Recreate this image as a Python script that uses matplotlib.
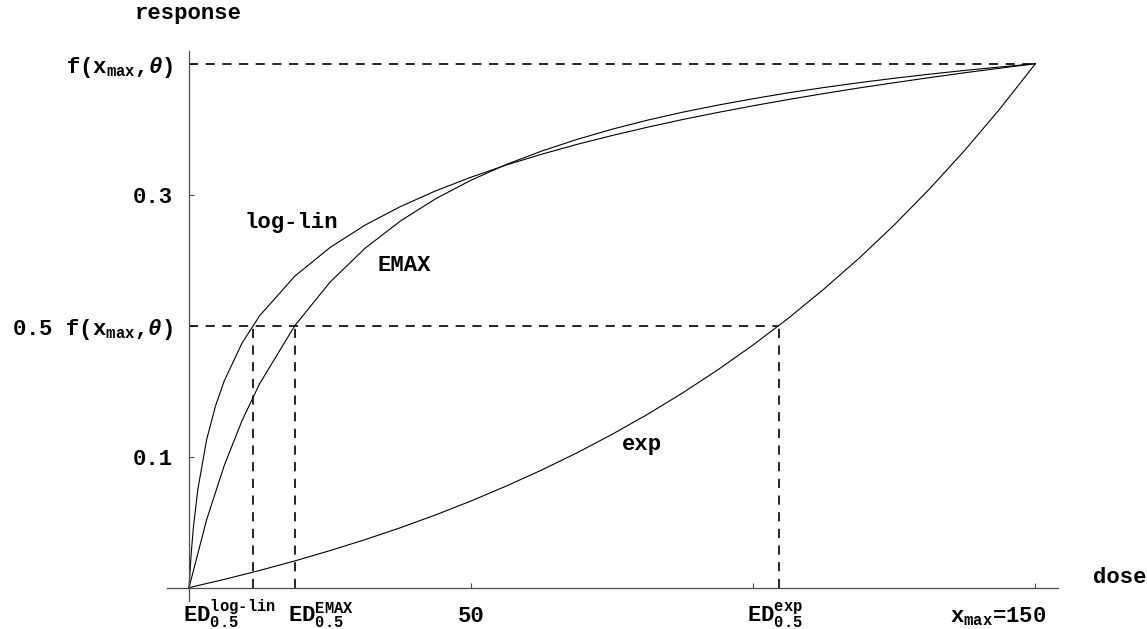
import matplotlib
matplotlib.use("Agg")
import matplotlib.pyplot as plt

plt.rcParams['font.family'] = ['Liberation Mono', 'DejaVu Sans']
plt.rcParams['font.weight'] = 'bold'
plt.rcParams['mathtext.fontset'] = 'custom'
plt.rcParams['mathtext.rm'] = 'Liberation Mono:bold'
plt.rcParams['mathtext.it'] = 'Liberation Mono:bold:italic'
plt.rcParams['mathtext.bf'] = 'Liberation Mono:bold'

# dose grid (plot points) and responses
dose_loglin = [0, 0.39, 0.78, 1.5625, 3.125, 4.6875, 6.25, 9.375, 12.5, 18.75, 25, 31.25,
               37.5, 43.75, 50, 56.25, 62.5, 68.75, 75, 81.25, 87.5, 93.75, 100, 106.25,
               112.5, 118.75, 125, 131.25, 137.5, 143.75, 150]
resp_loglin = [0, 0.0263, 0.0460, 0.0750, 0.1130, 0.1386, 0.1579, 0.1865, 0.2075, 0.2378,
               0.2597, 0.2769, 0.2910, 0.3030, 0.3134, 0.3227, 0.3309, 0.3384, 0.3452,
               0.3515, 0.3574, 0.3628, 0.3679, 0.3727, 0.3772, 0.3815, 0.3855, 0.3894,
               0.3931, 0.3966, 0.4000]

dose_emax = [0, 3.125, 6.25, 9.375, 12.5, 18.75, 25, 31.25, 37.5, 43.75, 50, 56.25, 62.5,
             68.75, 75, 81.25, 87.5, 93.75, 100, 106.25, 112.5, 118.75, 125, 131.25, 137.5,
             143.75, 150]
resp_emax = [0, 0.0519, 0.0933, 0.1273, 0.1556, 0.2000, 0.2333, 0.2593, 0.2800, 0.2970,
             0.3111, 0.3231, 0.3333, 0.3422, 0.3500, 0.3569, 0.3630, 0.3684, 0.3733,
             0.3778, 0.3818, 0.3855, 0.3889, 0.3920, 0.3949, 0.3975, 0.4000]

dose_exp = [0, 6.25, 12.5, 18.75, 25, 31.25, 37.5, 43.75, 50, 56.25, 62.5, 68.75, 75, 81.25,
            87.5, 93.75, 100, 106.25, 112.5, 118.75, 125, 131.25, 137.5, 143.75, 150]
resp_exp = [0, 0.0063, 0.0131, 0.0204, 0.0283, 0.0367, 0.0458, 0.0556, 0.0662, 0.0776,
            0.0898, 0.1029, 0.1171, 0.1323, 0.1487, 0.1664, 0.1854, 0.2058, 0.2279,
            0.2515, 0.2770, 0.3045, 0.3340, 0.3658, 0.4000]

x_max = 150
f_max = 0.4
ed_values = [11.29, 18.75, 104.5]   # log-lin, EMAX, exp

W, H = 1147, 629
fig = plt.figure(figsize=(W / 100, H / 100), dpi=100)
ax = fig.add_axes([167 / W, 28 / H, (1058 - 167) / W, (601 - 51) / H])
ax.set_xlim(-3.9, 154.0)
ax.set_ylim(-0.0102, 0.4097)

for s in ['top', 'right']:
    ax.spines[s].set_visible(False)
ax.spines['left'].set_position(('data', 0))
ax.spines['bottom'].set_position(('data', 0))
for s in ['left', 'bottom']:
    ax.spines[s].set_color('0.3')
    ax.spines[s].set_linewidth(0.9)

# curves
for xs, ys in [(dose_loglin, resp_loglin), (dose_emax, resp_emax), (dose_exp, resp_exp)]:
    ax.plot(xs, ys, color='black', lw=0.8, solid_joinstyle='miter')

# reference lines
dash = dict(color='black', lw=1.2, linestyle=(0, (5.5, 4.5)))
ax.plot([0, x_max], [f_max, f_max], **dash)
ax.plot([0, max(ed_values)], [f_max / 2, f_max / 2], **dash)
for ed in ed_values:
    ax.plot([ed, ed], [0, f_max / 2], **dash)

# ticks
ax.set_xticks([50, 100, 150])
ax.set_xticklabels(['', '', ''])
ax.set_yticks([0.1, 0.2, 0.3, 0.4])
ax.set_yticklabels(['0.1', r'0.5 f(x$_{\mathrm{max}}$,$\theta$)', '0.3',
                    r'f(x$_{\mathrm{max}}$,$\theta$)'])
ax.tick_params(axis='both', direction='in', length=3.6, width=0.8, color='0.3')
ax.tick_params(axis='y', pad=11.5, labelsize=16)

# x labels
ylab = -0.0262
ax.text(-1.1, ylab, r'$\mathrm{ED}_{0.5}^{\text{log-lin}}$', fontsize=16, ha='left', va='baseline')
ax.text(17.5, ylab, r'$\mathrm{ED}_{0.5}^{\mathrm{EMAX}}$', fontsize=16, ha='left', va='baseline')
ax.text(98.9, ylab, r'$\mathrm{ED}_{0.5}^{\mathrm{exp}}$', fontsize=16, ha='left', va='baseline')
ax.text(50, ylab, '50', fontsize=16, ha='center', va='baseline')
ax.text(152.0, ylab, r'x$_{\mathrm{max}}$=150', fontsize=16, ha='right', va='baseline')

# axis names
ax.text(160.2, 0.0074, 'dose', fontsize=16, ha='left', va='center', clip_on=False)
ax.text(-0.2, 0.438, 'response', fontsize=16, ha='center', va='center', clip_on=False)

# curve names
ax.text(18.1, 0.279, 'log-lin', fontsize=16, ha='center', va='center')
ax.text(38.1, 0.2456, 'EMAX', fontsize=16, ha='center', va='center')
ax.text(80.3, 0.109, 'exp', fontsize=16, ha='center', va='center')

fig.savefig('out.png', dpi=100)
